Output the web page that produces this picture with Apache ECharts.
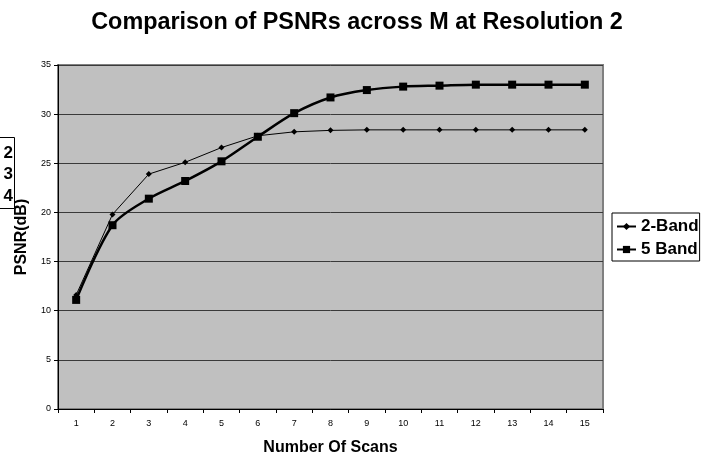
<!DOCTYPE html>
<html>
<head>
<meta charset="utf-8">
<script src="https://cdn.jsdelivr.net/npm/echarts@6/dist/echarts.min.js"></script>
<style>
  html, body { margin: 0; padding: 0; background: #fff; }
  #chart { width: 709px; height: 457px; }
</style>
</head>
<body>
<div id="chart"></div>
<script>
// Number of scans on the x axis
var scans = ['1','2','3','4','5','6','7','8','9','10','11','12','13','14','15'];
// PSNR (dB) per scan count
var band2 = [11.6, 19.8, 23.9, 25.1, 26.6, 27.8, 28.2, 28.35, 28.4, 28.4, 28.4, 28.4, 28.4, 28.4, 28.4];
var band5 = [11.1, 18.7, 21.4, 23.2, 25.2, 27.7, 30.1, 31.7, 32.45, 32.8, 32.9, 33.0, 33.0, 33.0, 33.0];
var seriesNames = ['2-Band', '5 Band'];
var sideLabels = ['2', '3', '4'];
var sideLabelY = [153, 174, 196];

var font = 'Liberation Sans, Arial, sans-serif';
var chart = echarts.init(document.getElementById('chart'), null, { renderer: 'canvas' });

chart.setOption({
  animation: false,
  backgroundColor: '#ffffff',
  title: {
    text: 'Comparison of PSNRs across M at Resolution 2',
    left: 352, top: 6, textAlign: 'center',
    textStyle: { fontFamily: font, fontSize: 23.4, fontWeight: 'bold', color: '#000' }
  },
  grid: {
    left: 58, right: 106, top: 65, bottom: 48,
    containLabel: false, outerBoundsMode: 'none',
    show: true, backgroundColor: '#c0c0c0', borderColor: '#808080', borderWidth: 2
  },
  legend: {
    orient: 'vertical', left: 612, top: 213,
    padding: [5, 1, 3, 4], itemGap: 6,
    borderColor: '#000', borderWidth: 1, backgroundColor: '#fff',
    itemWidth: 19, itemHeight: 9,
    textStyle: { fontFamily: font, fontSize: 17, fontWeight: 'bold', color: '#000' },
    data: seriesNames
  },
  xAxis: {
    type: 'category', data: scans, boundaryGap: true,
    name: 'Number Of Scans', nameLocation: 'middle', nameGap: 31,
    nameTextStyle: { fontFamily: font, fontSize: 16, fontWeight: 'bold', color: '#000' },
    axisLine: { lineStyle: { color: '#000', width: 1 } },
    axisTick: { show: true, inside: false, length: 4, interval: 0, lineStyle: { color: '#000' } },
    axisLabel: { fontFamily: font, fontSize: 9, color: '#000', margin: 10, interval: 0 },
    splitLine: { show: false }
  },
  yAxis: {
    type: 'value', min: 0, max: 35, interval: 5,
    name: 'PSNR(dB)', nameLocation: 'middle', nameGap: 22, nameRotate: 90,
    nameTextStyle: { fontFamily: font, fontSize: 16, fontWeight: 'bold', color: '#000' },
    axisLine: { show: true, lineStyle: { color: '#000', width: 1 } },
    axisTick: { show: true, inside: false, length: 4, lineStyle: { color: '#000' } },
    axisLabel: { fontFamily: font, fontSize: 9, color: '#000', margin: 7 },
    splitLine: { show: true, lineStyle: { color: '#3a3a3a', width: 1 } }
  },
  series: [
    {
      name: seriesNames[0], type: 'line', data: band2,
      symbol: 'diamond', symbolSize: 6,
      lineStyle: { color: '#000', width: 1 },
      itemStyle: { color: '#000' }
    },
    {
      name: seriesNames[1], type: 'line', data: band5, smooth: 0.3,
      symbol: 'rect', symbolSize: 8,
      lineStyle: { color: '#000', width: 2.5 },
      itemStyle: { color: '#000' }
    }
  ],
  graphic: [
    {
      type: 'rect', left: -2, top: 137,
      shape: { width: 16, height: 71 },
      style: { fill: '#fff', stroke: '#000', lineWidth: 1 }
    }
  ].concat(sideLabels.map(function (t, i) {
    return {
      type: 'text', x: 13, y: sideLabelY[i],
      style: { text: t, font: 'bold 17px ' + font, fill: '#000', textAlign: 'right', textVerticalAlign: 'middle' }
    };
  }))
});
</script>
</body>
</html>
